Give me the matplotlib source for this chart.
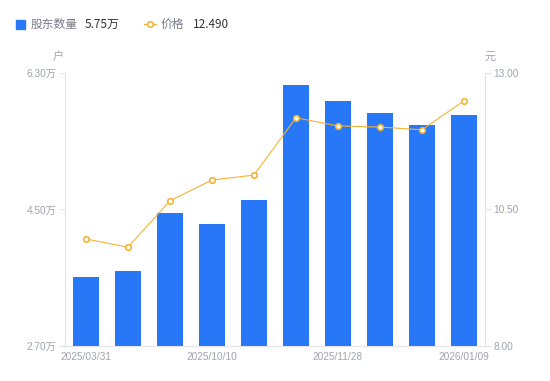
import matplotlib.pyplot as plt
import numpy as np

plt.rcParams['font.family'] = ['Noto Sans CJK SC', 'DejaVu Sans']

# 数据
dates = ['2025/03/31', '2025/06/30', '2025/09/30', '2025/10/10', '2025/10/31',
         '2025/11/10', '2025/11/28', '2025/12/10', '2025/12/31', '2026/01/09']
holders = [3.61, 3.69, 4.45, 4.31, 4.63, 6.14, 5.93, 5.77, 5.61, 5.75]   # 万户
price = [9.96, 9.81, 10.66, 11.04, 11.13, 12.18, 12.03, 12.01, 11.96, 12.49]
show_ticks = [0, 3, 6, 9]

bar_color = '#2777f6'
line_color = '#f5b335'
gray = '#a0a3b0'
axis_gray = '#e3e4e8'
tick_font = ['Liberation Sans', 'Noto Sans CJK SC']

fig = plt.figure(figsize=(5.5, 3.81), dpi=100)
ax = fig.add_axes([0.1182, 0.0919, 0.7636, 0.7165])
x = np.arange(len(dates))
ax.bar(x, holders, width=0.6, color=bar_color, zorder=2)
ax.set_xlim(-0.5, len(dates) - 0.5)
ax.set_ylim(2.70, 6.30)
ax.set_yticks([2.70, 4.50, 6.30])
ax.set_yticklabels(['2.70万', '4.50万', '6.30万'])
ax.set_xticks([x[i] for i in show_ticks])
ax.set_xticklabels([dates[i] for i in show_ticks])

ax2 = ax.twinx()
ax2.plot(x, price, color=line_color, lw=0.8, marker='o', ms=4,
         mfc='white', mec=line_color, mew=1.2, zorder=3)
ax2.set_ylim(8.0, 13.0)
ax2.set_yticks([8.0, 10.5, 13.0])
ax2.set_yticklabels(['8.00', '10.50', '13.00'])

for a in (ax, ax2):
    for s in a.spines.values():
        s.set_visible(False)
    a.tick_params(colors=gray, labelsize=7.3, length=4, width=0.8, color=axis_gray)
    for lab in a.get_xticklabels() + a.get_yticklabels():
        lab.set_family(tick_font)
ax.spines['left'].set_visible(True)
ax.spines['bottom'].set_visible(True)
ax2.spines['right'].set_visible(True)
for s in (ax.spines['left'], ax.spines['bottom'], ax2.spines['right']):
    s.set_color(axis_gray)
    s.set_linewidth(0.8)
ax.tick_params(axis='x', length=0, pad=4)
ax.tick_params(axis='y', pad=2)
ax2.tick_params(axis='y', pad=2)

# 单位
fig.text(58 / 550, 1 - 57 / 381, '户', color=gray, fontsize=8, ha='center', va='center')
fig.text(490 / 550, 1 - 57 / 381, '元', color=gray, fontsize=8, ha='center', va='center')

# 图例
fig.patches.append(plt.Rectangle((16 / 550, 1 - 29 / 381), 9 / 550, 9 / 381,
                                 transform=fig.transFigure, color=bar_color))
fig.text(31 / 550, 1 - 24 / 381, '股东数量', color='#777b87', fontsize=8.5, va='center')
fig.text(85 / 550, 1 - 24 / 381, '5.75万', color='#333333', fontsize=8.5, va='center')
fig.add_artist(plt.Line2D([144 / 550, 156 / 550], [1 - 24 / 381, 1 - 24 / 381],
                          transform=fig.transFigure, color=line_color, lw=1))
fig.add_artist(plt.Line2D([150 / 550], [1 - 24 / 381], transform=fig.transFigure,
                          marker='o', ms=4, mfc='white', mec=line_color, mew=1.2))
fig.text(161 / 550, 1 - 24 / 381, '价格', color='#777b87', fontsize=8.5, va='center')
fig.text(193 / 550, 1 - 24 / 381, '12.490', color='#333333', fontsize=8.5, va='center')

fig.savefig('out.png', dpi=100)
